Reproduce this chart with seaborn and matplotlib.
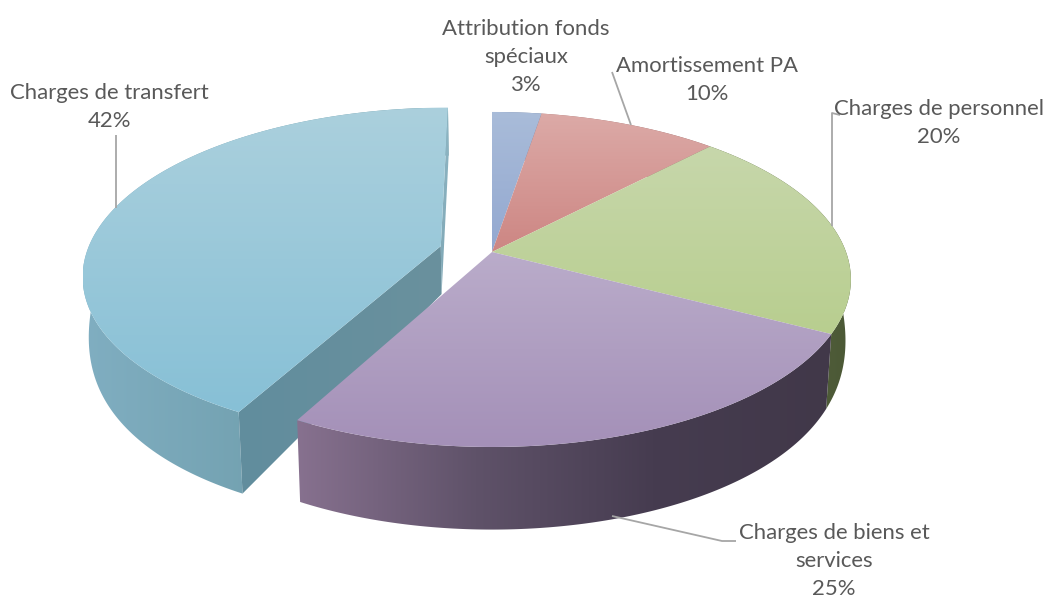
import numpy as np
import seaborn as sns
import matplotlib
matplotlib.use("Agg")
import matplotlib.pyplot as plt
from matplotlib.patches import Polygon

# ---- data ----
categories = ["Attribution fonds\nspéciaux", "Amortissement PA", "Charges de personnel",
              "Charges de biens et\nservices", "Charges de transfert"]
shares = [2.6, 9.5, 20.6, 25.1, 42.2]
percent_labels = ["3%", "10%", "20%", "25%", "42%"]
explode = [0, 0, 0, 0, 0.15]

top_colors = [["#a9bcd9", "#93a8d0"], ["#dcaaa7", "#cd8683"], ["#c7d7ab", "#b8ce8f"],
              ["#baacca", "#a490b8"], ["#abd0dd", "#87c0d6"]]
wall_colors = [["#7f8fb0", "#6f80a0"], ["#a87472", "#906261"], ["#5c6a40", "#4b5836"],
               ["#87718f", "#5f5269", "#463c50", "#413849"], ["#80aec1", "#65949f"]]
cut_colors = ["#618d9d", "#6a919e"]
sliver_colors = ["#8fb6c4", "#7fa7b5"]

label_xy = [(526, 57), (707, 80), (939, 123), (834, 561), (109, 107)]
leaders = [None,
           [(612, 72), (631, 125)],
           [(840, 115), (832, 113), (832, 226)],
           [(736, 541), (722, 541), (612, 516)],
           [(115.5, 135), (115.5, 208)]]

# ---- projection of the tilted disc ----
CX, CY = 492, 252
A, B, P = 354, 163, 0.164


def project(u, v):
    d = 1 - P * v
    return CX + A * u / d, CY + B * v / d


def lower(x, y):
    d = np.maximum(np.asarray(y, float) - CY, 0)
    return CX + (x - CX) * 0.985, y + 48 + 36 * (1 - np.exp(-d / 60))


def rim(t0, t1, du, dv, n=160):
    th = np.radians(np.linspace(t0, t1, n))
    return project(np.sin(th) + du, -np.cos(th) + dv)


sns.set_theme(style="white")
plt.rcParams["font.family"] = ["Lato", "DejaVu Sans"]
fig = plt.figure(figsize=(10.48, 5.99), dpi=100)
ax = fig.add_axes([0, 0, 1, 1])
ax.axis("off")


def fill(xs, ys, colors, horizontal, z):
    """Fill a polygon with a linear gradient built from a seaborn palette."""
    cmap = sns.blend_palette(colors, as_cmap=True)
    grad = np.linspace(0, 1, 256)
    grad = grad[None, :] if horizontal else grad[:, None]
    ext = (min(xs), max(xs), max(ys), min(ys))
    im = ax.imshow(grad, cmap=cmap, extent=ext, aspect="auto", zorder=z, interpolation="bilinear")
    poly = Polygon(np.c_[xs, ys], closed=True, fc="none", ec="none", zorder=z, transform=ax.transData)
    ax.add_patch(poly)
    im.set_clip_path(poly)


edges = np.cumsum([0] + shares) * 3.6
order = [0, 1, 2, 4, 3]
for rank, i in enumerate(order):
    t0, t1 = edges[i], edges[i + 1]
    mid = np.radians((t0 + t1) / 2)
    du, dv = explode[i] * np.sin(mid), -explode[i] * np.cos(mid)
    ax0, ay0 = project(du, dv)
    rx, ry = rim(t0, t1, du, dv)
    bx, by = lower(rx, ry)
    bax, bay = lower(ax0, ay0)
    z = 2 + rank * 3
    # outer wall
    wx = np.r_[rx, bx[::-1]]
    wy = np.r_[ry, by[::-1]]
    fill(wx, wy, wall_colors[i], True, z)
    # cut faces of the exploded slice
    if explode[i] > 0:
        fill([ax0, rx[0], bx[0], bax], [ay0, ry[0], by[0], bay], cut_colors, True, z + 1)
        fill([ax0, rx[-1], bx[-1], bax], [ay0, ry[-1], by[-1], bay], sliver_colors, False, z + 1)
    # top face
    tx = np.r_[ax0, rx]
    ty = np.r_[ay0, ry]
    fill(tx, ty, top_colors[i], False, z + 2)

for path in leaders:
    if path:
        xs, ys = zip(*path)
        ax.plot(xs, ys, color="#a6a6a6", lw=1.3, zorder=30, solid_capstyle="butt")

for name, pct, (x, y) in zip(categories, percent_labels, label_xy):
    ax.text(x, y, f"{name}\n{pct}", ha="center", va="center", fontsize=15.9,
            color="#595959", linespacing=1.5, zorder=31)

ax.set_xlim(0, 1048)
ax.set_ylim(599, 0)
fig.savefig("out.png", dpi=100, facecolor="white")
